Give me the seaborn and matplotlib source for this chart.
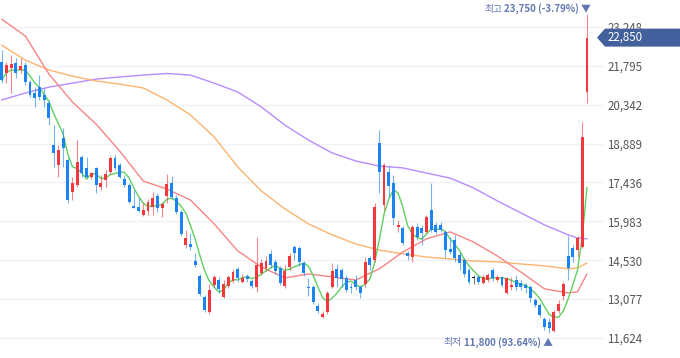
import matplotlib
matplotlib.use("Agg")
import matplotlib.pyplot as plt
import matplotlib.transforms as mtransforms
from matplotlib.patches import Polygon
import numpy as np
import pandas as pd
import seaborn as sns

# daily candles (KRW), oldest first
opens = [21940, 21530, 21710, 21900, 21640, 21820, 21190, 20780, 21000, 20700,
         20400, 18840, 18090, 19100, 18280, 17080, 17340, 18390, 17980, 17640,
         17980, 17270, 17530, 17830, 18350, 18090, 17570, 17340, 16560, 16520,
         16220, 16370, 16520, 16930, 16480, 16930, 17420, 16860, 16330, 15100,
         15140, 14500, 13940, 13160, 12600, 13610, 13790, 13160, 13570, 13760,
         14210, 13720, 13940, 13760, 13530, 14060, 14240, 14770, 14470, 14240,
         13570, 14280, 15030, 14990, 14430, 13530, 13530, 12820, 12410, 12600,
         13530, 14200, 14170, 13870, 13530, 13790, 13530, 13650, 14620, 14540,
         18910, 16600, 17830, 17420, 15770, 15740, 14800, 14650, 15770, 15740,
         15590, 16410, 15850, 15850, 15590, 14950, 15290, 14730, 14540, 14170,
         13850, 13910, 13680, 13790, 14170, 13790, 13910, 13310, 13530, 13790,
         13680, 13610, 13530, 13050, 12860, 12340, 12230, 11880, 12640, 13200,
         14690, 14990, 14910, 15030, 20820]
highs = [22380, 21940, 22200, 22090, 22090, 21940, 21260, 21000, 21450, 20970,
         20520, 19580, 18840, 19470, 18350, 17640, 19020, 18460, 18390, 17830,
         18020, 17720, 17900, 18430, 18460, 18160, 17720, 17420, 17160, 16860,
         16670, 16820, 17080, 17040, 16710, 17750, 17680, 16970, 16410, 15660,
         15550, 14800, 14020, 13230, 13650, 13980, 13910, 13790, 13980, 14210,
         14280, 14020, 14020, 13830, 15400, 14580, 14690, 14910, 14580, 14320,
         14350, 14800, 15100, 15060, 14500, 13870, 13610, 12930, 12640, 13380,
         14430, 14390, 14240, 13980, 13680, 13980, 13610, 14650, 14690, 16670,
         19390, 18160, 18050, 17720, 16030, 15810, 14880, 15850, 15920, 15850,
         16220, 17420, 15960, 15960, 15660, 15400, 15470, 14840, 14620, 14240,
         13980, 13980, 13980, 14060, 14240, 13980, 13940, 13910, 13910, 13980,
         13790, 13680, 13610, 13120, 12930, 12410, 12380, 12670, 13050, 13720,
         15440, 15100, 15440, 19700, 23750]
lows = [21150, 21150, 20780, 21340, 21530, 21080, 20630, 20260, 20520, 20260,
        19580, 18020, 17640, 18020, 16670, 16780, 17270, 17640, 17600, 17570,
        17040, 17160, 17270, 17750, 17900, 17600, 17270, 16670, 16480, 16330,
        16180, 16220, 16220, 16330, 16150, 16670, 16820, 16260, 15440, 14990,
        14910, 14280, 13200, 12600, 12520, 13530, 13310, 13120, 13500, 13680,
        13720, 13680, 13720, 13500, 13350, 13980, 14130, 14240, 14020, 13610,
        13500, 14170, 14540, 14320, 13940, 13200, 12900, 12560, 12370, 12520,
        13490, 13530, 13530, 13350, 13310, 13420, 13120, 13530, 14170, 14470,
        17040, 16410, 16890, 15850, 15590, 15100, 14540, 14470, 15290, 15100,
        15550, 15590, 15510, 15590, 14620, 14770, 14470, 14170, 13910, 13650,
        13650, 13650, 13650, 13720, 13760, 13720, 13530, 13270, 13420, 13420,
        13420, 13310, 12970, 12790, 12410, 11930, 11800, 11850, 12560, 13050,
        13790, 14470, 14650, 14990, 20400]
closes = [21260, 21820, 21860, 21530, 21790, 21190, 20700, 20590, 20630, 20520,
          19850, 18540, 18650, 18720, 16780, 17420, 18200, 17790, 17640, 17790,
          17340, 17420, 17750, 18350, 17980, 17640, 17340, 16710, 16490, 16370,
          16410, 16710, 16860, 16480, 16630, 17380, 16890, 16330, 15510, 15360,
          15030, 14350, 13270, 12670, 13420, 13910, 13460, 13650, 13910, 14090,
          13870, 13870, 13830, 13570, 14350, 14430, 14500, 14350, 14130, 13680,
          14130, 14690, 14800, 14470, 14060, 13490, 12970, 12640, 12520, 13310,
          14130, 13870, 13830, 13420, 13490, 13530, 13310, 14470, 14350, 16520,
          17830, 18090, 17300, 16110, 15850, 15180, 14690, 15770, 15400, 15550,
          16150, 15660, 15590, 15660, 14910, 14840, 14620, 14430, 14020, 13720,
          13850, 13720, 13910, 13980, 13870, 13910, 13610, 13870, 13610, 13530,
          13530, 13490, 13120, 12860, 12490, 12040, 12000, 12600, 12900, 13650,
          14240, 14650, 15360, 19140, 22850]

# longer moving averages at every 5th candle
ma_idx = [0, 5, 10, 15, 20, 25, 30, 35, 40, 45, 50, 55, 60, 65, 70, 75, 80,
          85, 90, 95, 100, 105, 110, 115, 120, 122, 124]
ma20 = [23540, 22910, 21490, 20440, 19620, 18610, 17490, 17190, 16780, 15890,
        14880, 14280, 13870, 14020, 13910, 13790, 14210, 14840, 15330, 15590,
        15210, 14690, 14090, 13460, 13310, 13350, 14020]
ma60 = [22570, 22010, 21640, 21410, 21230, 21110, 20970, 20520, 19960, 19140,
        18020, 17120, 16450, 15890, 15480, 15140, 14910, 14770, 14650, 14580,
        14500, 14470, 14390, 14320, 14210, 14240, 14430]
ma120 = [20520, 20780, 21000, 21150, 21300, 21380, 21450, 21510, 21450, 21150,
         20820, 20260, 19580, 19020, 18540, 18240, 18050, 17980, 17790, 17600,
         17230, 16750, 16300, 15850, 15480, 15360, 15330]

tick_values = [11624, 13077, 14530, 15983, 17436, 18889, 20342, 21795, 23248]
last_price = 22850
hi_price, hi_pct = 23750, -3.79
lo_price, lo_pct = 11800, 93.64

UP, DOWN, FLAT = '#f2383d', '#1b83f2', '#222222'
TAG = '#41609c'
NOTE = '#6277b1'

df = pd.DataFrame({'open': opens, 'high': highs, 'low': lows, 'close': closes})
df['idx'] = np.arange(len(df))
df['ma5'] = df['close'].rolling(5, min_periods=1).mean()
ma = pd.DataFrame({'idx': ma_idx, 'ma20': ma20, 'ma60': ma60, 'ma120': ma120})

sns.set_theme(style='white')
plt.rcParams['font.family'] = ['Noto Sans CJK KR', 'DejaVu Sans']

W, H = 680, 358
plot_w = 603
fig = plt.figure(figsize=(W / 100, H / 100), dpi=100)
ax = fig.add_axes([0, 0, plot_w / W, 1])

ymin, ymax = 10877, 24256
px = (ymax - ymin) / H  # price per pixel

# moving averages
for col, color in [('ma120', '#b88bff'), ('ma60', '#fbb46f'), ('ma20', '#f78585')]:
    sns.lineplot(data=ma, x='idx', y=col, color=color, lw=1, ax=ax, zorder=2)
sns.lineplot(data=df, x='idx', y='ma5', color='#5fd05f', lw=1, ax=ax, zorder=2)

# candles
colors = np.where(df['close'] > df['open'], UP,
                  np.where(df['close'] < df['open'], DOWN, FLAT))
ax.vlines(df['idx'], df['low'], df['high'], colors=colors, lw=0.8, alpha=0.6, zorder=3)
body = (df['close'] - df['open']).abs().clip(lower=px)
ax.bar(df['idx'], body, bottom=df[['open', 'close']].min(axis=1), width=0.62,
       color=colors, lw=0, zorder=4)

ax.set_xlim(-0.36, (plot_w - 1.7) / 4.72)
ax.set_ylim(ymin, ymax)
ax.set_xticks([])
ax.set_yticks(tick_values)
ax.set_yticklabels([f'{v:,}' for v in tick_values])
ax.yaxis.tick_right()
ax.tick_params(axis='y', length=0, pad=3, labelsize=8.3, labelcolor='#555555')
ax.grid(axis='y', color='#f0f1f6', lw=1)
ax.set_axisbelow(True)
ax.set_xlabel('')
ax.set_ylabel('')
for s in ax.spines.values():
    s.set_visible(False)

# current price tag on the right axis (it covers the top tick label, as in the source)
trans = mtransforms.blended_transform_factory(ax.transAxes, ax.transData)
h = 9 * px
tip, shoulder, end = 597 / plot_w, 605 / plot_w, (W + 10) / plot_w
tag = Polygon([(tip, last_price), (shoulder, last_price + h), (end, last_price + h),
               (end, last_price - h), (shoulder, last_price - h)], closed=True,
              transform=trans, fc=TAG, ec='none', clip_on=False, zorder=6)
ax.add_patch(tag)
ax.text(608 / plot_w, last_price, f'{last_price:,}', transform=trans, ha='left',
        va='center', fontsize=8.3, color='white', zorder=7, clip_on=False)

# high / low notes
hi_i = int(np.argmax(highs))
lo_i = int(np.argmin(lows))
t_hi = ax.annotate(f'{hi_price:,} ({hi_pct:.2f}%) ▼', xy=(hi_i, hi_price),
                   xytext=(3, 3.3), textcoords='offset points', ha='right', va='center',
                   fontsize=7, fontweight='bold', color=NOTE, annotation_clip=False)
ax.annotate('최고', xy=(0, 0.5), xycoords=t_hi, xytext=(-1.5, 0), textcoords='offset points',
            ha='right', va='center', fontsize=7, color=NOTE)
t_lo = ax.annotate(f'{lo_price:,} ({lo_pct:.2f}%) ▲', xy=(lo_i, lo_price),
                   xytext=(2.5, -6.3), textcoords='offset points', ha='right', va='center',
                   fontsize=7, fontweight='bold', color=NOTE, annotation_clip=False)
ax.annotate('최저', xy=(0, 0.5), xycoords=t_lo, xytext=(-1.5, 0), textcoords='offset points',
            ha='right', va='center', fontsize=7, color=NOTE)

fig.savefig('out.png', dpi=100)
